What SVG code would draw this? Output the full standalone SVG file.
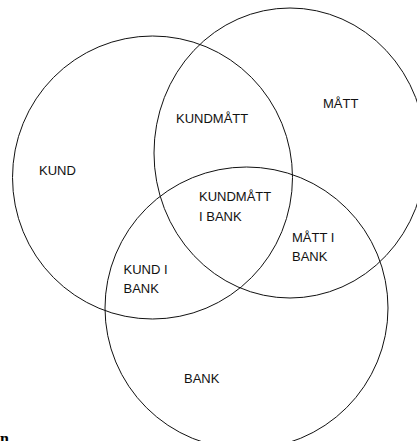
<svg xmlns="http://www.w3.org/2000/svg" width="417" height="441" viewBox="0 0 417 441">
<style>
.c{fill:none;stroke:#111;stroke-width:1}
.t{font-family:"Liberation Sans",Arial,sans-serif;font-size:13px;fill:#111}
.f{font-family:"Liberation Serif","Times New Roman",serif;font-size:16px;font-weight:bold;fill:#000}
</style>
<rect width="417" height="441" fill="#fff"/>
<g id="connectors"></g>
<g id="kund"><ellipse class="c" cx="152.5" cy="177.5" rx="140" ry="141.5"/><text class="t" x="39" y="175">KUND</text></g>
<g id="matt"><ellipse class="c" cx="290" cy="153" rx="136" ry="145"/><text class="t" x="323" y="108">MÅTT</text></g>
<g id="bank"><ellipse class="c" cx="246.5" cy="308" rx="141.5" ry="141"/><text class="t" x="184" y="383">BANK</text></g>
<g id="kundmatt"><text class="t" x="176" y="123">KUNDMÅTT</text></g>
<g id="kundmatt-i-bank"><text class="t" x="199" y="201">KUNDMÅTT</text><text class="t" x="199" y="220.5">I BANK</text></g>
<g id="matt-i-bank"><text class="t" x="292" y="242">MÅTT I</text><text class="t" x="292" y="261">BANK</text></g>
<g id="kund-i-bank"><text class="t" x="123.5" y="274">KUND I</text><text class="t" x="123.5" y="293">BANK</text></g>
<text class="f" x="0" y="444">n</text>
</svg>
